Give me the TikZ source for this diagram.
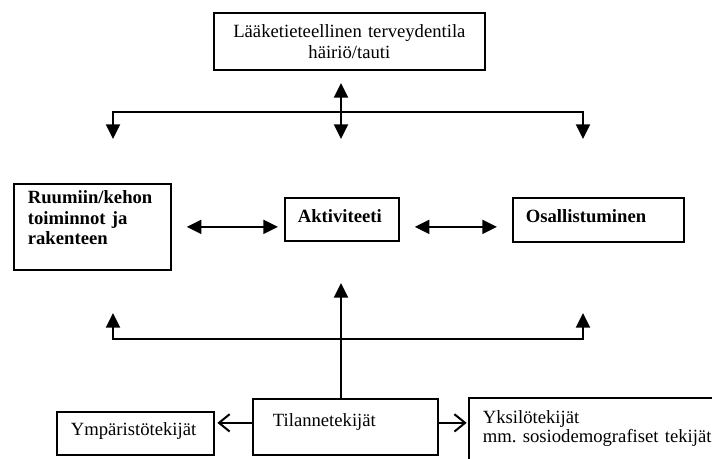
\documentclass[tikz,border=0pt]{standalone}
\usepackage{fontspec}
\setmainfont{Liberation Serif}
\usetikzlibrary{arrows.meta}
\frenchspacing

\begin{document}
\begin{tikzpicture}[
  x=0.75pt, y=-0.75pt,
  box/.style={draw, line width=1.3pt, anchor=north west, inner ysep=0pt, align=left,
    font=\fontsize{14}{15.6}\selectfont},
  arrow/.style={-{Triangle[length=11pt, width=10.5pt]}, line width=1.5pt},
  dblarrow/.style={{Triangle[length=11pt, width=10.5pt]}-{Triangle[length=11pt, width=10.5pt]}, line width=1.5pt},
  openarrow/.style={-{Straight Barb[length=8pt, width=13pt]}, line width=1.5pt}
]
\clip (0,0) rectangle (712,459);
% boxes
\node[box, align=center, inner xsep=0pt, text width=203.25pt, text height=18.75pt, text depth=24pt] (health) at (213,12)
  {Lääketieteellinen terveydentila\\häiriö/tauti};
\node[box, inner xsep=10.5pt, text width=96.75pt, text height=15pt, text depth=49.5pt, font=\fontsize{14}{15.4}\selectfont\bfseries] (body) at (13,183)
  {Ruumiin/kehon\\toiminnot ja\\rakenteen};
\node[box, inner xsep=9.75pt, text width=66pt, text height=18.75pt, text depth=13.5pt, font=\fontsize{14}{15.4}\selectfont\bfseries] (act) at (284,197)
  {Aktiviteeti};
\node[box, inner xsep=9.75pt, text width=108.75pt, text height=18.75pt, text depth=14.25pt, font=\fontsize{14}{15.4}\selectfont\bfseries] (part) at (512,197)
  {Osallistuminen};
\node[box, inner xsep=15pt, text width=108.75pt, text height=21pt, text depth=21pt] (situ) at (252,398)
  {Tilannetekijät};
\node[box, inner xsep=10.5pt, text width=96.75pt, text height=18pt, text depth=14.25pt] (env) at (56,411)
  {Ympäristötekijät};
\node[box, inner xsep=10.5pt, text width=204pt, text height=19.5pt, text depth=60pt, font=\fontsize{14}{14.3}\selectfont] (indiv) at (468,397)
  {Yksilötekijät\\mm. sosiodemografiset tekijät};
% junction points
\coordinate (hub) at (341,112);
\coordinate (dnL) at (113,139);
\coordinate (dnR) at (583,139);
\coordinate (hubB) at (341,339);
\coordinate (upL) at (113,313);
\coordinate (upR) at (583,313);
\coordinate (upA) at (341,283);
% top
\draw[dblarrow] (341,83) -- (341,139);
\draw[arrow] (hub) -| (dnL);
\draw[arrow] (hub) -| (dnR);
% middle
\draw[dblarrow, shorten <=11.25pt, shorten >=4.5pt] (body.east) -- (body.east -| act.west);
\draw[dblarrow, shorten <=11.25pt, shorten >=11.25pt] (body.east -| act.east) -- (body.east -| part.west);
% bottom
\draw[line width=1.5pt] (upA |- situ.north) -- (hubB);
\draw[arrow] (hubB) -- (upA);
\draw[arrow] (hubB) -| (upL);
\draw[arrow] (hubB) -| (upR);
\draw[openarrow, shorten >=2pt] ([yshift=3pt]situ.west) -- ([yshift=3pt]situ.west -| env.east);
\draw[openarrow, shorten >=1pt] ([yshift=3pt]situ.east) -- ([yshift=3pt]situ.east -| indiv.west);
\end{tikzpicture}
\end{document}
